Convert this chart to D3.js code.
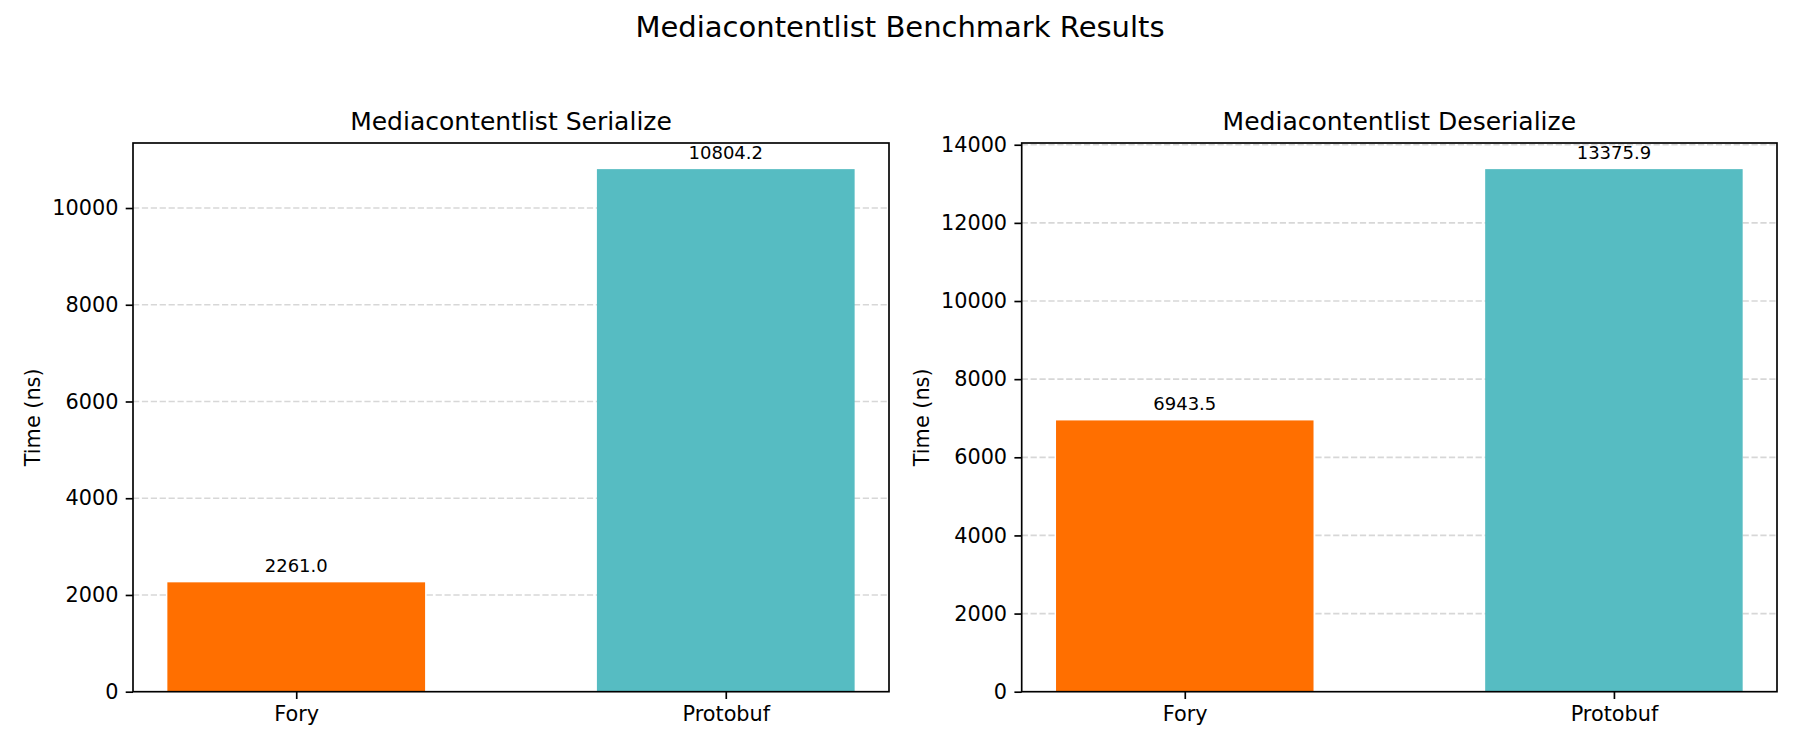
<!DOCTYPE html>
<html>
<head>
<meta charset="utf-8">
<script src="https://cdn.jsdelivr.net/npm/d3@7"></script>
<style>
  html, body { margin: 0; padding: 0; background: #fff; }
  svg { display: block; font-family: "DejaVu Sans", sans-serif; }
</style>
</head>
<body>
<svg id="chart" width="1800" height="750"></svg>
<script>
// ---- Data ----
const suptitle = "Mediacontentlist Benchmark Results";
const categories = ["Fory", "Protobuf"];
const barColors = ["#FF6F00", "#56BCC2"];
const serializeTitle = "Mediacontentlist Serialize";
const serializeValues = [2261.0, 10804.2];
const serializeTicks = [0, 2000, 4000, 6000, 8000, 10000];
const deserializeTitle = "Mediacontentlist Deserialize";
const deserializeValues = [6943.5, 13375.9];
const deserializeTicks = [0, 2000, 4000, 6000, 8000, 10000, 12000, 14000];
const yLabel = "Time (ns)";

// ---- Layout ----
const svg = d3.select("#chart");
const panels = [
  { title: serializeTitle, values: serializeValues, ticks: serializeTicks, x0: 133, x1: 889 },
  { title: deserializeTitle, values: deserializeValues, ticks: deserializeTicks, x0: 1021.7, x1: 1777 }
];
const yTop = 143, yBottom = 691.7;
const tickLen = 7.3, tickPad = 7.3;
const tickFont = 20.8;

svg.append("text")
  .attr("x", 900).attr("y", 36.5)
  .attr("text-anchor", "middle")
  .attr("font-size", 29)
  .attr("fill", "#000")
  .text(suptitle);

panels.forEach(p => {
  const g = svg.append("g");
  const maxV = d3.max(p.values) * 1.05;
  const y = d3.scaleLinear().domain([0, maxV]).range([yBottom, yTop]);
  // bars of width 0.6 centered at 0,1; matplotlib margins 5% of data range
  const x = d3.scaleLinear().domain([-0.38, 1.38]).range([p.x0, p.x1]);
  const barW = 0.6;

  // grid
  g.append("g").selectAll("line").data(p.ticks.filter(t => t > 0)).join("line")
    .attr("x1", p.x0).attr("x2", p.x1)
    .attr("y1", d => y(d)).attr("y2", d => y(d))
    .attr("stroke", "#b0b0b0").attr("stroke-opacity", 0.5)
    .attr("stroke-width", 1.67)
    .attr("stroke-dasharray", "6.2,2.7");

  // bars
  g.append("g").selectAll("rect").data(p.values).join("rect")
    .attr("x", (d, i) => x(i - barW / 2))
    .attr("width", (d, i) => x(i + barW / 2) - x(i - barW / 2))
    .attr("y", d => y(d))
    .attr("height", d => yBottom - y(d))
    .attr("fill", (d, i) => barColors[i]);

  // value labels
  g.append("g").selectAll("text").data(p.values).join("text")
    .attr("x", (d, i) => x(i))
    .attr("y", d => y(d) - 10.6)
    .attr("text-anchor", "middle")
    .attr("font-size", 18)
    .attr("fill", "#000")
    .text(d => d.toFixed(1));

  // y axis
  const yAxis = d3.axisLeft(y).tickValues(p.ticks).tickFormat(d3.format("d"))
    .tickSize(tickLen).tickPadding(tickPad);
  const ya = g.append("g").attr("transform", `translate(${p.x0},0)`).call(yAxis);
  ya.select(".domain").remove();
  ya.selectAll("line").attr("stroke", "#000").attr("stroke-width", 1.67);
  ya.selectAll("text").attr("font-size", tickFont).attr("font-family", "DejaVu Sans").attr("fill", "#000");

  // x axis
  const xAxis = d3.axisBottom(x).tickValues([0, 1]).tickFormat(i => categories[i])
    .tickSize(tickLen).tickPadding(tickPad);
  const xa = g.append("g").attr("transform", `translate(0,${yBottom})`).call(xAxis);
  xa.select(".domain").remove();
  xa.selectAll("line").attr("stroke", "#000").attr("stroke-width", 1.67);
  xa.selectAll("text").attr("font-size", tickFont).attr("font-family", "DejaVu Sans").attr("fill", "#000");

  // spines
  g.append("rect")
    .attr("x", p.x0).attr("y", yTop)
    .attr("width", p.x1 - p.x0).attr("height", yBottom - yTop)
    .attr("fill", "none").attr("stroke", "#000").attr("stroke-width", 1.67);

  // title
  g.append("text")
    .attr("x", (p.x0 + p.x1) / 2).attr("y", yTop - 13.5)
    .attr("text-anchor", "middle")
    .attr("font-size", 25)
    .attr("fill", "#000")
    .text(p.title);

  // y label
  const labelX = p.x0 - tickLen - tickPad - 66 - 19.4;
  g.append("text")
    .attr("transform", `translate(${labelX},${(yTop + yBottom) / 2}) rotate(-90)`)
    .attr("text-anchor", "middle")
    .attr("dominant-baseline", "central")
    .attr("font-size", tickFont)
    .attr("fill", "#000")
    .text(yLabel);
});
</script>
</body>
</html>
